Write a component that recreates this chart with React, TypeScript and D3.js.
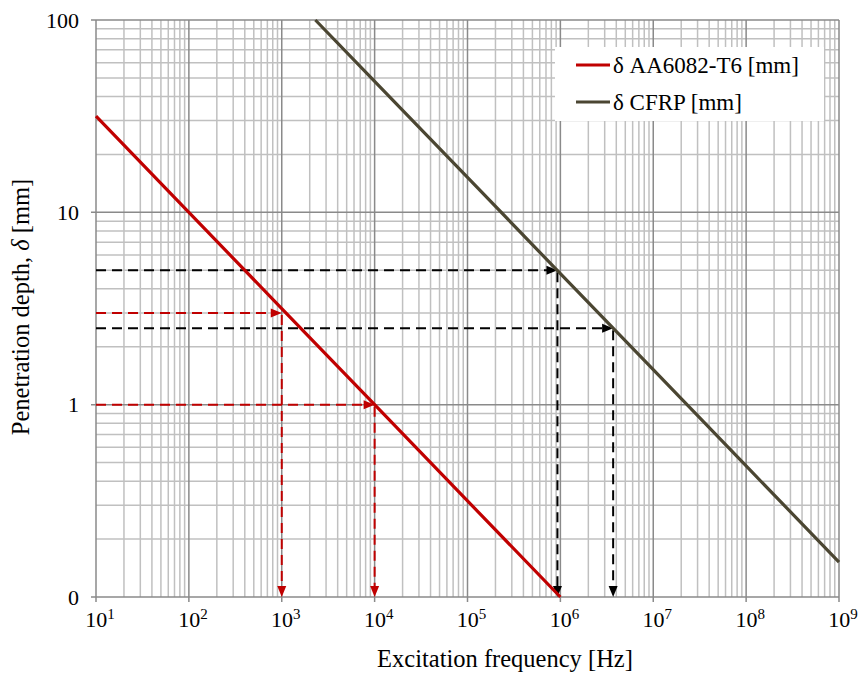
import React from "react";
import * as d3 from "d3";

const aaFreq = [10, 1e2, 1e3, 1e4, 1e5, 1e6];
const aaDepth = [31.6, 10, 3.16, 1, 0.316, 0.1];
const cfrpFreq = [2300, 1e4, 1e5, 1e6, 1e7, 1e8, 1e9];
const cfrpDepth = [100, 48, 15.2, 4.8, 1.52, 0.48, 0.152];

const markFreq = [1e3, 1e4, 9.3e5, 3.7e6];
const markDepth = [3, 1, 5, 2.5];
const markSeries = ["aa", "aa", "cfrp", "cfrp"];

const xTickExp = [1, 2, 3, 4, 5, 6, 7, 8, 9];
const yTicks = [0.1, 1, 10, 100];
const yTickLabels = ["0", "1", "10", "100"];

const seriesNames = ["δ AA6082-T6 [mm]", "δ CFRP [mm]"];
const seriesColors = ["#c00000", "#4b4632"];

const W = 859;
const H = 673;
const M = { left: 96, right: 839, top: 20, bottom: 597 };
const FONT = "'Liberation Serif', serif";

export default function App() {
  const x = d3.scaleLog().domain([1e1, 1e9]).range([M.left, M.right]);
  const y = d3.scaleLog().domain([0.1, 100]).range([M.bottom, M.top]);

  const minorX: number[] = [];
  for (let e = 1; e < 9; e++) for (let k = 2; k <= 9; k++) minorX.push(k * Math.pow(10, e));
  const minorY: number[] = [];
  for (let e = -1; e < 2; e++) for (let k = 2; k <= 9; k++) minorY.push(k * Math.pow(10, e));

  const line = d3
    .line<[number, number]>()
    .x((d) => x(d[0]))
    .y((d) => y(d[1]));

  const aaData = aaFreq.map((f, i) => [f, aaDepth[i]] as [number, number]);
  const cfrpData = cfrpFreq.map((f, i) => [f, cfrpDepth[i]] as [number, number]);

  const minorColor = "#c0c0c0";
  const majorColor = "#8a8a8a";

  const arrowRight = (px: number, py: number, c: string, key: string) => (
    <path key={key} d={`M${px},${py} L${px - 11},${py - 4.5} L${px - 11},${py + 4.5} Z`} fill={c} />
  );
  const arrowDown = (px: number, py: number, c: string, key: string) => (
    <path key={key} d={`M${px},${py} L${px - 4.5},${py - 11} L${px + 4.5},${py - 11} Z`} fill={c} />
  );

  return (
    <svg width={W} height={H} style={{ position: "absolute", left: 0, top: 0 }}>
      <rect x={0} y={0} width={W} height={H} fill="#fff" />
      {/* minor grid */}
      {minorX.map((v, i) => (
        <line key={"mx" + i} x1={x(v)} x2={x(v)} y1={M.top} y2={M.bottom} stroke={minorColor} strokeWidth={1.5} />
      ))}
      {minorY.map((v, i) => (
        <line key={"my" + i} x1={M.left} x2={M.right} y1={y(v)} y2={y(v)} stroke={minorColor} strokeWidth={1.5} />
      ))}
      {/* major grid */}
      {xTickExp.map((e) => (
        <line key={"Mx" + e} x1={x(Math.pow(10, e))} x2={x(Math.pow(10, e))} y1={M.top} y2={M.bottom + 5} stroke={majorColor} strokeWidth={1.5} />
      ))}
      {yTicks.map((v, i) => (
        <line key={"My" + i} x1={M.left - 5} x2={M.right} y1={y(v)} y2={y(v)} stroke={majorColor} strokeWidth={1.5} />
      ))}

      {/* legend background */}
      <rect x={555} y={47} width={269} height={74} fill="#fff" />

      {/* marker dashed lines */}
      {markFreq.map((f, i) => {
        const c = markSeries[i] === "aa" ? seriesColors[0] : "#000";
        const px = x(f);
        const py = y(markDepth[i]);
        return (
          <g key={"m" + i}>
            <line x1={M.left} x2={px - 8} y1={py} y2={py} stroke={c} strokeWidth={2} strokeDasharray="10,6" />
            <line x1={px} x2={px} y1={py + 2} y2={M.bottom - 8} stroke={c} strokeWidth={2} strokeDasharray="10,6" />
            {arrowRight(px, py, c, "ar" + i)}
            {arrowDown(px, M.bottom, c, "ad" + i)}
          </g>
        );
      })}

      {/* series lines */}
      <path d={line(aaData) || ""} fill="none" stroke={seriesColors[0]} strokeWidth={3.2} />
      <path d={line(cfrpData) || ""} fill="none" stroke={seriesColors[1]} strokeWidth={3.2} />

      {/* y tick labels */}
      {yTicks.map((v, i) => (
        <text key={"yl" + i} x={79} y={y(v)} dy="0.35em" textAnchor="end" fontFamily={FONT} fontSize={22} fill="#000">
          {yTickLabels[i]}
        </text>
      ))}
      {/* x tick labels */}
      {xTickExp.map((e) => (
        <text key={"xl" + e} x={x(Math.pow(10, e)) + 4} y={627} textAnchor="middle" fontFamily={FONT} fontSize={22} fill="#000">
          10
          <tspan dy={-8} fontSize={15}>
            {e}
          </tspan>
        </text>
      ))}

      {/* axis titles */}
      <text x={505} y={667} textAnchor="middle" fontFamily={FONT} fontSize={24.5} fill="#000">
        Excitation frequency [Hz]
      </text>
      <text
        transform={`translate(29,307) rotate(-90)`}
        textAnchor="middle"
        fontFamily={FONT}
        fontSize={24.5}
        fill="#000"
      >
        Penetration depth, <tspan fontStyle="italic">δ</tspan> [mm]
      </text>

      {/* legend */}
      {seriesNames.map((n, i) => (
        <g key={"lg" + i}>
          <line x1={576} x2={610} y1={65 + i * 37} y2={65 + i * 37} stroke={seriesColors[i]} strokeWidth={3.2} />
          <text x={613} y={65 + i * 37} dy="0.35em" fontFamily={FONT} fontSize={23} fill="#000">
            {n}
          </text>
        </g>
      ))}
    </svg>
  );
}
